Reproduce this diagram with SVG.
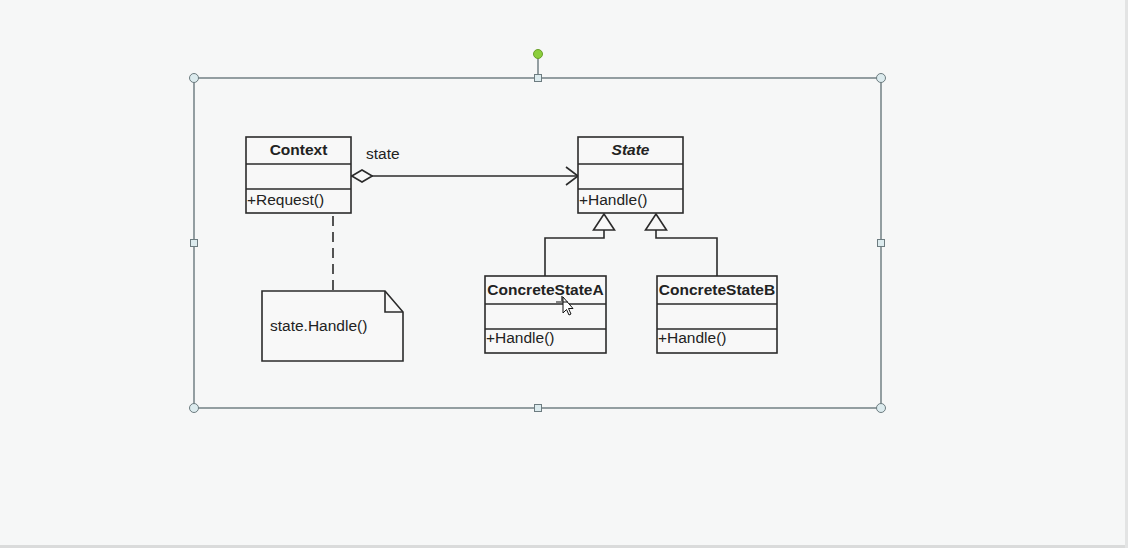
<svg xmlns="http://www.w3.org/2000/svg" width="1128" height="548" viewBox="0 0 1128 548">
<defs>
<style>
.box{fill:#f8f8f8;stroke:#2b2b2b;stroke-width:1.6}
.ln{fill:none;stroke:#2b2b2b;stroke-width:1.6}
.t{font-family:"Liberation Sans",Arial,sans-serif;font-size:15.5px;fill:#222}
.b{font-weight:bold}
.sel{fill:none;stroke:#5f6f74;stroke-width:1.3}
.h{fill:#dcebee;stroke:#6d7c80;stroke-width:1}
</style>
<marker id="openArrow" viewBox="0 0 14 20" refX="13" refY="10" markerWidth="14" markerHeight="20" markerUnits="userSpaceOnUse" orient="auto">
<path d="M1,1 L13,10 L1,19" fill="none" stroke="#2b2b2b" stroke-width="1.6"/>
</marker>
<marker id="diamond" viewBox="0 0 22 14" refX="0" refY="7" markerWidth="22" markerHeight="14" markerUnits="userSpaceOnUse" orient="auto">
<path d="M0.8,7 L11,1 L21.2,7 L11,13 Z" fill="#f8f8f8" stroke="#2b2b2b" stroke-width="1.6"/>
</marker>
<marker id="gen" viewBox="0 0 24 24" refX="22" refY="12" markerWidth="24" markerHeight="24" markerUnits="userSpaceOnUse" orient="auto">
<path d="M22,12 L6,1.5 L6,22.5 Z" fill="#f8f8f8" stroke="#2b2b2b" stroke-width="1.6"/>
</marker>
</defs>
<rect x="0" y="0" width="1128" height="548" fill="#f6f7f7"/>
<rect x="0" y="545" width="1128" height="3" fill="#dadbdb"/>
<rect x="1125" y="0" width="3" height="548" fill="#e3e4e4"/>

<g id="connectors">
<line x1="351" y1="176" x2="578" y2="176" class="ln" marker-start="url(#diamond)" marker-end="url(#openArrow)"/>
<text class="t" x="366" y="159">state</text>
<line x1="333" y1="200" x2="333" y2="291" class="ln" stroke-dasharray="10,6"/>
<polyline points="545,276 545,238 604,238 604,214" class="ln" marker-end="url(#gen)"/>
<polyline points="717,276 717,238 656,238 656,214" class="ln" marker-end="url(#gen)"/>
</g>

<g id="context">
<rect class="box" x="246" y="137" width="105" height="76"/>
<line class="ln" x1="246" y1="164" x2="351" y2="164"/>
<line class="ln" x1="246" y1="189" x2="351" y2="189"/>
<text class="t b" x="298.5" y="155" text-anchor="middle">Context</text>
<text class="t" x="247" y="205">+Request()</text>
</g>

<g id="state">
<rect class="box" x="578" y="137" width="105" height="76"/>
<line class="ln" x1="578" y1="164" x2="683" y2="164"/>
<line class="ln" x1="578" y1="189" x2="683" y2="189"/>
<text class="t b" x="630.5" y="155" text-anchor="middle" font-style="italic">State</text>
<text class="t" x="579" y="205">+Handle()</text>
</g>

<g id="concreteStateA">
<rect class="box" x="485" y="276" width="121" height="77"/>
<line class="ln" x1="485" y1="304" x2="606" y2="304"/>
<line class="ln" x1="485" y1="329" x2="606" y2="329"/>
<text class="t b" x="545.5" y="295" text-anchor="middle">ConcreteStateA</text>
<text class="t" x="486" y="343">+Handle()</text>
</g>

<g id="concreteStateB">
<rect class="box" x="657" y="276" width="120" height="77"/>
<line class="ln" x1="657" y1="304" x2="777" y2="304"/>
<line class="ln" x1="657" y1="329" x2="777" y2="329"/>
<text class="t b" x="717" y="295" text-anchor="middle">ConcreteStateB</text>
<text class="t" x="658" y="343">+Handle()</text>
</g>

<g id="note">
<path class="box" d="M262,291 L385,291 L403,312 L403,361 L262,361 Z"/>
<path class="ln" d="M385,291 L385,312 L403,312"/>
<text class="t" x="270" y="331">state.Handle()</text>
</g>

<g id="selection">
<rect class="sel" x="194" y="78" width="687" height="330"/>
<line class="sel" x1="538" y1="58" x2="538" y2="74"/>
<circle cx="538" cy="54" r="4.5" fill="#8ccf3c" stroke="#6aa02a" stroke-width="1"/>
<circle class="h" cx="194" cy="78" r="4.5"/>
<circle class="h" cx="881" cy="78" r="4.5"/>
<circle class="h" cx="194" cy="408" r="4.5"/>
<circle class="h" cx="881" cy="408" r="4.5"/>
<rect class="h" x="534.5" y="74.5" width="7" height="7"/>
<rect class="h" x="534.5" y="404.5" width="7" height="7"/>
<rect class="h" x="190.5" y="239.5" width="7" height="7"/>
<rect class="h" x="877.5" y="239.5" width="7" height="7"/>
</g>

<g id="cursor">
<path d="M563,297 L563,313 L566.5,309.5 L569,315 L571,314 L568.5,308.5 L573,308.5 Z" fill="#ffffff" stroke="#111" stroke-width="1"/>
<path d="M556,302 L568,302 M562,296 L562,301" stroke="#111" stroke-width="1.2" fill="none"/>
</g>
</svg>
